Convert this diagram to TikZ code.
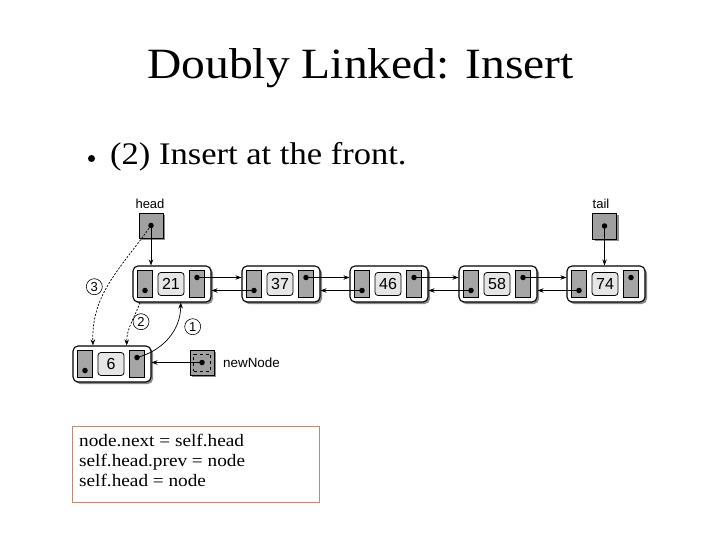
\documentclass[tikz,border=0pt]{standalone}
\usepackage{fontspec}
\setmainfont{Liberation Serif}[FakeStretch=1.1]
\newfontfamily\arial{Liberation Sans}
\usetikzlibrary{arrows.meta,shadows,calc}
\definecolor{cellgray}{RGB}{166,166,166}
\definecolor{midgray}{RGB}{230,230,230}
\definecolor{boxgray}{RGB}{160,160,160}
\definecolor{codeborder}{RGB}{185,140,120}
\tikzset{
  outer/.style={draw=black,line width=1.1pt,fill=white,rounded corners=5pt,
    minimum width=78pt,minimum height=36pt,inner sep=0pt,
    drop shadow={shadow xshift=2pt,shadow yshift=-2pt,fill=black!45,opacity=1}},
  cell/.style={draw=black,line width=0.9pt,fill=cellgray,minimum width=15pt,minimum height=27pt,inner sep=0pt},
  midcell/.style={draw=black,line width=0.8pt,fill=midgray,rounded corners=3pt,minimum width=26pt,minimum height=23pt,inner sep=0pt,font=\arial\fontsize{16}{16}\selectfont},
  ptrbox/.style={draw=black,line width=0.9pt,fill=boxgray,minimum width=24pt,minimum height=25pt,inner sep=0pt,
    drop shadow={shadow xshift=2pt,shadow yshift=-2pt,fill=black!45,opacity=1}},
  dotp/.style={circle,fill=black,inner sep=0pt,minimum size=5.5pt},
  lbl/.style={font=\arial\fontsize{13}{13}\selectfont,inner sep=0pt},
  numc/.style={circle,draw=black,line width=0.6pt,fill=white,minimum size=16pt,inner sep=0pt,font=\arial\fontsize{13}{13}\selectfont},
  link/.style={line width=0.7pt,-{Stealth[length=6pt,width=4.5pt]}},
  dlink/.style={line width=0.7pt,dash pattern=on 2pt off 1.5pt,-{Stealth[length=6pt,width=4.5pt]}},
}
\newcommand{\dlnode}[4]{%
  \node[outer] (#1) at (#2,#3) {};
  \node[cell] (#1L) at ([xshift=-27.5pt]#1.center) {};
  \node[midcell] (#1M) at ([xshift=-1pt]#1.center) {#4};
  \node[cell] (#1R) at ([xshift=24.5pt]#1.center) {};
  \node[dotp] (#1Ld) at ([xshift=-27pt,yshift=-6.5pt]#1.center) {};
  \node[dotp] (#1Rd) at ([xshift=25pt,yshift=6.5pt]#1.center) {};
}
\begin{document}
\begin{tikzpicture}[x=1pt,y=-1pt]
\useasboundingbox[fill=white] (0,0) rectangle (720,540);
% title
\node[anchor=base,inner sep=0pt,font=\fontsize{43.2}{43.2}\selectfont] (title) at (360.5,79) {Doubly Linked: Insert};
\node[circle,fill=black,inner sep=0pt,minimum size=7pt] (bul) at (91.5,158.5) {};
\node[anchor=base west,inner sep=0pt,font=\fontsize{31.4}{31.4}\selectfont] (item) at (110,165) {(2) Insert at the front.};
% nodes
\dlnode{n21}{172}{284}{21}
\dlnode{n37}{281}{284}{37}
\dlnode{n46}{389}{284}{46}
\dlnode{n58}{498}{284}{58}
\dlnode{n74}{606}{284}{74}
\dlnode{n6}{112}{364}{6}
% head / tail
\node[ptrbox] (head) at (151,225.5) {};
\node[dotp] (headd) at (head.center) {};
\node[lbl,anchor=base] (headl) at (150,209) {head};
\node[ptrbox,minimum height=26pt] (tail) at (604.5,226) {};
\node[dotp] (taild) at (tail.center) {};
\node[lbl,anchor=base] (taill) at (601,208) {tail};
% newNode
\node[ptrbox] (nn) at (202,362.5) {};
\node[draw=black,dashed,line width=0.5pt,minimum width=17pt,minimum height=17pt,inner sep=0pt] (nnin) at (nn.center) {};
\node[dotp] (nnd) at (nn.center) {};
\node[lbl,anchor=west,font=\arial\fontsize{13.4}{13.4}\selectfont] (nnl) at (223,363) {newNode};
% head/tail pointers
\draw[link] (headd.center) -- (headd.center |- n21.north);
\draw[link] (taild.center) -- (taild.center |- n74.north);
% next links
\foreach \a/\b in {n21/n37,n37/n46,n46/n58,n58/n74}{
  \draw[link] (\a Rd.center) -- (\a Rd.center -| \b.west);
  \draw[link] (\b Ld.center) -- (\b Ld.center -| \a.east);
}
% newNode pointer
\draw[link] (nnd.center) -- (nnd.center -| n6.east);
% step 1
\coordinate (s1end) at ([xshift=8.7pt]n21.south);
\draw[link] (n6Rd.center) to[out=15,in=-90] (s1end);
\node[numc] (c1) at (192.7,326.7) {1};
% step 2
\coordinate (s2start) at ([xshift=-32pt]n21.south);
\coordinate (s2end) at ([xshift=14.7pt]n6.north);
\draw[dlink] (s2start) to[out=-110,in=90] (s2end);
\node[numc] (c2) at (141,321.7) {2};
% step 3
\coordinate (s3end) at ([xshift=-19pt]n6.north);
\draw[dlink] (headd.center) to[out=-125,in=92] (s3end);
\node[numc] (c3) at (94.3,286.7) {3};
% code box
\node[draw=codeborder,line width=0.8pt,minimum width=246.6pt,minimum height=76.3pt,inner sep=0pt] (code) at (196,464.2) {};
\node[anchor=base west,inner sep=0pt,font=\fontsize{17.5}{17.5}\selectfont] (c1t) at (79,446.7) {node.next = self.head};
\node[anchor=base west,inner sep=0pt,font=\fontsize{17.5}{17.5}\selectfont] (c2t) at (79,466.7) {self.head.prev = node};
\node[anchor=base west,inner sep=0pt,font=\fontsize{17.5}{17.5}\selectfont] (c3t) at (79,486.7) {self.head = node};
\end{tikzpicture}
\end{document}
